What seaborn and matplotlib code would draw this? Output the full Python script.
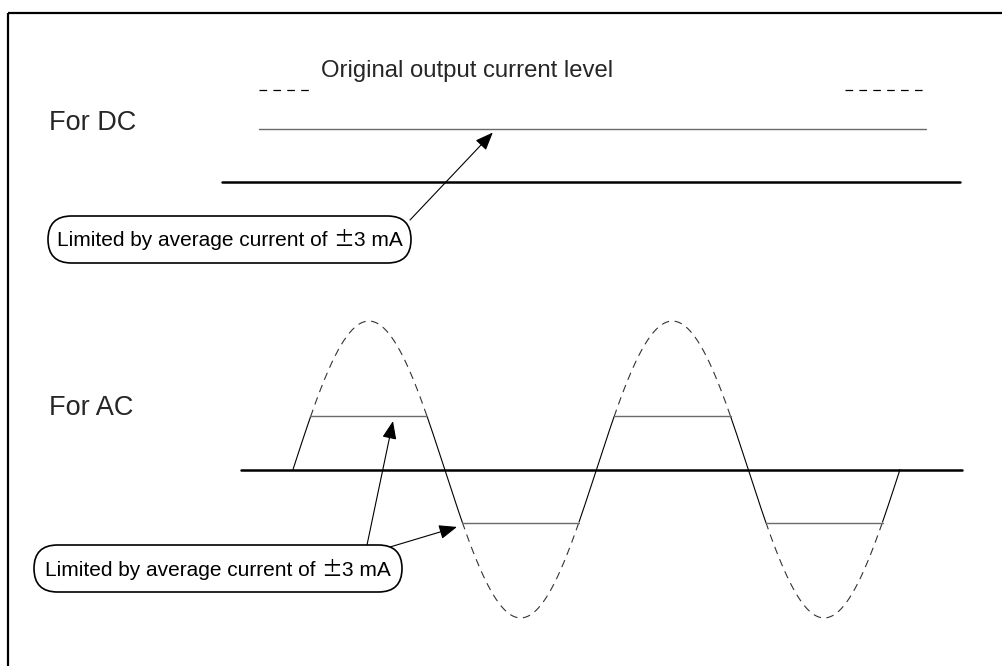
import numpy as np
import pandas as pd
import matplotlib
matplotlib.use("Agg")
import matplotlib.pyplot as plt
import seaborn as sns
from matplotlib.patches import FancyBboxPatch
from matplotlib.offsetbox import TextArea, HPacker, AnnotationBbox

# ---------------- data (schematic values) ----------------
ac_peak_ma = 8.4            # original AC output current peak
limit_ma = 3.0              # limited by average current of ±3 mA
dc_original_ma = 5.2        # original DC output current level
ac_span_deg = [0, 720]      # two full AC cycles
dc_axis_deg = [-84, 791]
dc_level_deg = [-40, 751]
dc_orig_left_deg = [-40, 24]
dc_orig_right_deg = [655, 751]
ac_axis_deg = [-62, 794]
label_dc = "For DC"
label_ac = "For AC"
label_orig = "Original output current level"
label_limit_parts = ["Limited by average current of ", "\u00b1", "3 mA"]

# ---------------- layout (pixel mapping) ----------------
X0, KX = 293.0, 607.0 / 720.0
AC_Y0, DC_Y0, KY = 469.5, 182.0, 17.67


def px(deg):
    return X0 + np.asarray(deg, dtype=float) * KX


def py_ac(ma):
    return AC_Y0 - np.asarray(ma, dtype=float) * KY


def py_dc(ma):
    return DC_Y0 - np.asarray(ma, dtype=float) * KY


sns.set_theme(style="white")
plt.rcParams["font.family"] = ["Liberation Sans", "DejaVu Sans"]
plt.rcParams["lines.scale_dashes"] = False

fig = plt.figure(figsize=(10.02, 6.66), dpi=100)
ax = fig.add_axes([0, 0, 1, 1])
ax.set_xlim(0, 1002)
ax.set_ylim(666, 0)
ax.axis("off")


def seg(xs, ys, **kw):
    df = pd.DataFrame({"x": xs, "y": ys})
    sns.lineplot(data=df, x="x", y="y", ax=ax, estimator=None, sort=False,
                 legend=False, **kw)


# frame (top and left edges)
ax.plot([8, 1002], [13, 13], color="black", lw=1.6, solid_capstyle="butt")
ax.plot([8, 8], [13, 666], color="black", lw=1.6, solid_capstyle="butt")

# ---------------- DC section ----------------
seg(px(dc_axis_deg), py_dc([0, 0]), color="black", lw=1.8)
seg(px(dc_level_deg), py_dc([limit_ma, limit_ma]), color="#6a6a6a", lw=1.0)
for d in (dc_orig_left_deg, dc_orig_right_deg):
    seg(px(d), py_dc([dc_original_ma, dc_original_ma]), color="black",
        lw=0.9, linestyle=(0, (5.5, 4.5)))

# ---------------- AC section ----------------
seg(px(ac_axis_deg), py_ac([0, 0]), color="black", lw=1.8)

deg = np.linspace(ac_span_deg[0], ac_span_deg[1], 2881)
wave = ac_peak_ma * np.sin(np.radians(deg))
over = np.abs(wave) > limit_ma


def runs(mask):
    idx = np.flatnonzero(np.diff(np.concatenate([[0], mask.astype(int), [0]])))
    return list(zip(idx[::2], idx[1::2]))


# sloped (unclipped) parts
for a, b in runs(~over):
    seg(px(deg[a:b]), py_ac(wave[a:b]), color="black", lw=0.8)
# original waveform beyond the limit (dashed) and the clipped flat tops
for a, b in runs(over):
    a0, b1 = max(a - 1, 0), min(b + 1, len(deg))
    seg(px(deg[a0:b1]), py_ac(wave[a0:b1]), color="#333333", lw=0.8,
        linestyle=(0, (5.5, 4.0)))
    lvl = np.sign(wave[(a + b) // 2]) * limit_ma
    seg(px([deg[a0], deg[b1 - 1]]), py_ac([lvl, lvl]), color="#6a6a6a", lw=1.0)

# ---------------- texts ----------------
ax.text(49, 130, label_dc, fontsize=19.5, ha="left", va="baseline")
ax.text(49, 415, label_ac, fontsize=19.5, ha="left", va="baseline")
ax.text(321, 77, label_orig, fontsize=17.2, ha="left", va="baseline")

# rounded callout boxes
boxes = [(48, 216, 363, 47), (34, 545, 368, 47)]
fams = [["Liberation Sans", "DejaVu Sans"],
        ["Noto Sans CJK JP", "DejaVu Sans"],
        ["Liberation Sans", "DejaVu Sans"]]
for (bx, by, bw, bh) in boxes:
    p = FancyBboxPatch((bx, by), bw, bh,
                       boxstyle=f"round,pad=0,rounding_size={bh / 2}",
                       fc="white", ec="black", lw=1.2, zorder=3)
    ax.add_patch(p)
    parts = [TextArea(t, textprops=dict(fontsize=15, family=f, color="black"))
             for t, f in zip(label_limit_parts, fams)]
    pack = HPacker(children=parts, align="baseline", pad=0, sep=0)
    ab = AnnotationBbox(pack, (bx + bw / 2, by + bh / 2 + 1), frameon=False,
                        box_alignment=(0.5, 0.5), pad=0, zorder=4)
    ax.add_artist(ab)

astyle = dict(arrowstyle="-|>,head_length=0.55,head_width=0.22",
              mutation_scale=20, color="black", lw=0.8, shrinkA=0, shrinkB=0)
# DC arrow
ax.annotate("", xy=(px(237), py_dc(limit_ma - 0.2)), xytext=(410, 220),
            arrowprops=astyle, zorder=2)
# AC arrows
ax.annotate("", xy=(px(118.6), py_ac(limit_ma - 0.26)), xytext=(367, 545),
            arrowprops=astyle, zorder=2)
ax.annotate("", xy=(px(194.5), py_ac(-limit_ma - 0.25)), xytext=(390, 547),
            arrowprops=astyle, zorder=2)

fig.savefig("out.png", dpi=100)
